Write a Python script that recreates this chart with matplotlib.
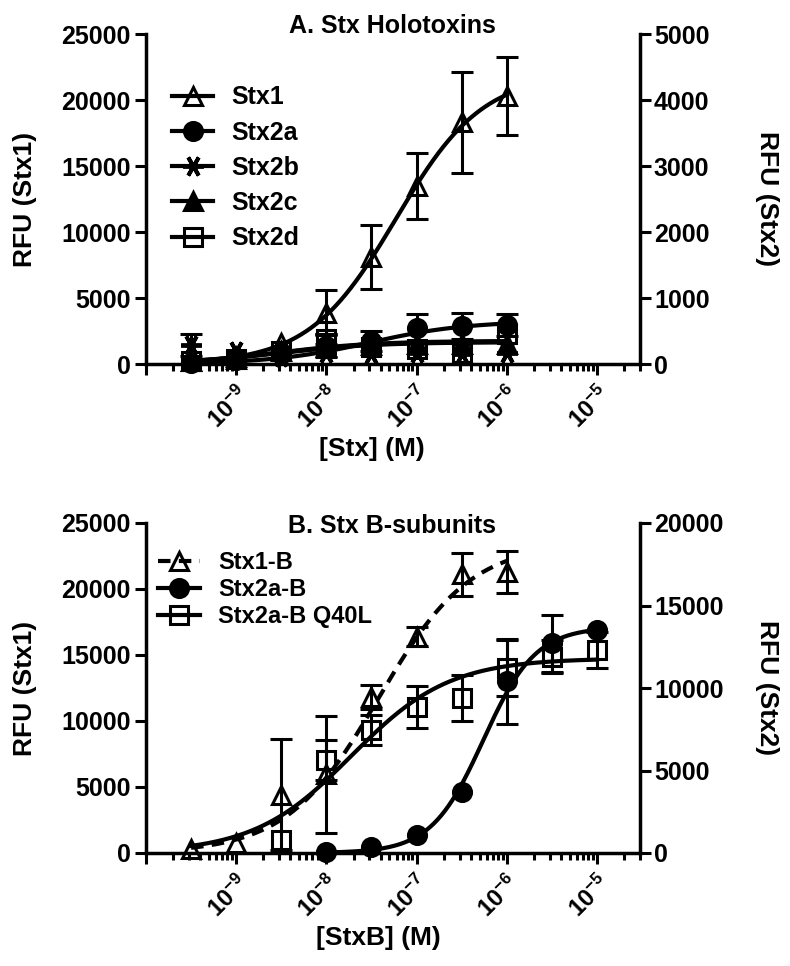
import matplotlib
matplotlib.use('Agg')
import matplotlib.pyplot as plt
import numpy as np
from matplotlib.lines import Line2D
from matplotlib.ticker import FixedLocator, FixedFormatter, NullFormatter

plt.rcParams['font.family'] = ['Liberation Sans', 'DejaVu Sans']
plt.rcParams['font.weight'] = 'bold'
plt.rcParams['axes.labelweight'] = 'bold'
plt.rcParams['mathtext.fontset'] = 'custom'
plt.rcParams['mathtext.bf'] = 'Liberation Sans:bold'
plt.rcParams['mathtext.rm'] = 'Liberation Sans:bold'
plt.rcParams['mathtext.default'] = 'bf'

# --- Panel A: holotoxins ---
conc_A = [3.16e-10, 1e-9, 3.16e-9, 1e-8, 3.16e-8, 1e-7, 3.16e-7, 1e-6]
stx1 = [200, 500, 1600, 3900, 8100, 13500, 18300, 20300]
stx1_err = [0, 0, 0, 1700, 2450, 2500, 3800, 2950]
# Stx2 toxins on right axis (RFU Stx2)
stx2a = [20, 60, 150, 280, 350, 550, 576, 590]
stx2a_err = [0, 0, 0, 170, 150, 210, 200, 170]
stx2b = [290, 200, 110, 170, 150, 170, 150, 160]
stx2b_err = [165, 0, 0, 0, 0, 0, 0, 0]
stx2c = [50, 80, 200, 260, 290, 300, 310, 300]
stx2d = [40, 80, 200, 380, 260, 220, 170, 450]
stx2d_err = [0, 0, 0, 75, 0, 0, 0, 0]

# fit parameters (top, EC50, hill)
fit_stx1 = (22000, 5.9e-8, 0.9)
fit_stx2a = (650, 3e-8, 0.8)
fit_stx2b = (330, 3e-9, 0.8)
fit_stx2c = (340, 3e-9, 0.8)
fit_stx2d = (350, 3e-9, 0.8)

# --- Panel B: B-subunits ---
conc_B1 = [3.16e-10, 1e-9, 3.16e-9, 1e-8, 3.16e-8, 1e-7, 3.16e-7, 1e-6]
stx1b = [300, 750, 4400, 5950, 11800, 16400, 21100, 21300]
stx1b_err = [0, 0, 4200, 4450, 900, 750, 1600, 1600]
conc_B2 = [1e-8, 3.16e-8, 1e-7, 3.16e-7, 1e-6, 3.16e-6, 1e-5]
stx2ab = [80, 380, 1100, 3700, 10400, 12700, 13500]
stx2ab_err = [0, 0, 0, 0, 2600, 1700, 0]
conc_B3 = [3.16e-9, 1e-8, 3.16e-8, 1e-7, 3.16e-7, 1e-6, 3.16e-6, 1e-5]
q40l = [790, 5640, 7450, 8850, 9390, 11200, 11900, 12300]
q40l_err = [0, 1200, 900, 1300, 1400, 1700, 1000, 1100]

fit_stx1b = (23500, 3.8e-8, 0.85)
fit_stx2ab = (13700, 5.5e-7, 1.5)
fit_q40l = (11800, 1.9e-8, 0.8)

major_ticks = [1e-10, 1e-9, 1e-8, 1e-7, 1e-6, 1e-5]
major_labels = ['', r'$10^{-9}$', r'$10^{-8}$', r'$10^{-7}$', r'$10^{-6}$', r'$10^{-5}$']

LW = 3
MS = 13
MEW = 2.2
STAR = (6, 2, 90)


def logistic(x, p):
    top, ec50, hill = p
    return top / (1 + (ec50 / x) ** hill)


def curve(ax, xmin, xmax, p, ls='-'):
    xs = np.logspace(np.log10(xmin), np.log10(xmax), 300)
    ax.plot(xs, logistic(xs, p), color='k', lw=LW, ls=ls, zorder=2)


def points(ax, x, y, err, marker, mfc):
    x, y = np.array(x), np.array(y)
    if err is not None:
        err = np.array(err)
        m = err > 0
        ax.errorbar(x[m], y[m], yerr=err[m], fmt='none', ecolor='k',
                    elinewidth=2.2, capsize=8, capthick=2.2, zorder=3)
    mew = 2.8 if marker == STAR else MEW
    ms = 15 if marker == STAR else MS
    ax.plot(x, y, ls='none', marker=marker, ms=ms, mfc=mfc, mec='k',
            mew=mew, clip_on=False, zorder=4)


def style(ax, ax2, rmax, rstep):
    ax.set_xscale('log')
    ax.set_xlim(1e-10, 3e-5)
    ax.set_ylim(0, 25000)
    ax.set_yticks(np.arange(0, 25001, 5000))
    ax2.set_ylim(0, rmax)
    ax2.set_yticks(np.arange(0, rmax + 1, rstep))
    for s in ['top', 'right']:
        ax.spines[s].set_visible(False)
    for s in ['top', 'left', 'bottom']:
        ax2.spines[s].set_visible(False)
    for sp in [ax.spines['left'], ax.spines['bottom'], ax2.spines['right']]:
        sp.set_linewidth(2.5)
    ax.xaxis.set_major_locator(FixedLocator(major_ticks))
    ax.xaxis.set_major_formatter(FixedFormatter(major_labels))
    minors = [m * 10.0 ** e for e in range(-10, -4) for m in range(2, 10)]
    ax.xaxis.set_minor_locator(FixedLocator([v for v in minors if v <= 3.01e-5]))
    ax.xaxis.set_minor_formatter(NullFormatter())
    ax.tick_params(axis='x', which='major', length=8, width=2.2, pad=5, labelsize=17)
    ax.tick_params(axis='x', which='minor', length=5, width=2.2)
    ax.tick_params(axis='y', length=8, width=2.2, labelsize=18, pad=3)
    ax2.tick_params(axis='y', length=8, width=2.2, labelsize=18, pad=2)
    for lab in ax.get_xticklabels():
        lab.set_rotation(45)
        lab.set_ha('right')
        lab.set_va('top')
        lab.set_rotation_mode('anchor')


fig = plt.figure(figsize=(7.9, 9.66), dpi=100)
W, H = 790, 966
axA = fig.add_axes([146 / W, 1 - 364 / H, 494 / W, 330 / H])
axA2 = axA.twinx()
axB = fig.add_axes([146 / W, 1 - 853 / H, 494 / W, 330 / H])
axB2 = axB.twinx()
style(axA, axA2, 5000, 1000)
style(axB, axB2, 20000, 5000)

# panel A
curve(axA, conc_A[0], conc_A[-1], fit_stx1)
curve(axA2, conc_A[0], conc_A[-1], fit_stx2a)
curve(axA2, conc_A[0], conc_A[-1], fit_stx2b)
curve(axA2, conc_A[0], conc_A[-1], fit_stx2c)
curve(axA2, conc_A[0], conc_A[-1], fit_stx2d)
points(axA, conc_A, stx1, stx1_err, '^', 'none')
points(axA2, conc_A, stx2a, stx2a_err, 'o', 'k')
points(axA2, conc_A, stx2b, stx2b_err, STAR, 'k')
points(axA2, conc_A, stx2c, None, '^', 'k')
points(axA2, conc_A, stx2d, stx2d_err, 's', 'none')

# panel B
curve(axB, conc_B1[0], conc_B1[-1], fit_stx1b, ls=(0, (3, 2)))
curve(axB2, conc_B2[0], conc_B2[-1], fit_stx2ab)
curve(axB2, conc_B1[0], conc_B3[-1], fit_q40l)
points(axB, conc_B1, stx1b, stx1b_err, '^', 'none')
points(axB2, conc_B2, stx2ab, stx2ab_err, 'o', 'k')
points(axB2, conc_B3, q40l, q40l_err, 's', 'none')


def handle(marker, mfc):
    mew = 2.8 if marker == STAR else MEW
    ms = 15 if marker == STAR else MS
    return Line2D([], [], color='k', lw=LW, marker=marker, ms=ms, mfc=mfc,
                  mec='k', mew=mew)


hA = [handle('^', 'none'), handle('o', 'k'), handle(STAR, 'k'),
      handle('^', 'k'), handle('s', 'none')]
axA2.legend(hA, ['Stx1', 'Stx2a', 'Stx2b', 'Stx2c', 'Stx2d'], loc='upper left',
            bbox_to_anchor=(0.053, 0.844), frameon=False, fontsize=18,
            handlelength=1.65, handletextpad=0.7, labelspacing=0.45,
            borderpad=0, borderaxespad=0)
hB = [Line2D([], [], color='k', lw=LW, ls=(0, (3, 2)), marker='^', ms=MS,
             mfc='none', mec='k', mew=MEW),
      handle('o', 'k'), handle('s', 'none')]
axB2.legend(hB, ['Stx1-B', 'Stx2a-B', 'Stx2a-B Q40L'], loc='upper left',
            bbox_to_anchor=(0.024, 0.914), frameon=False, fontsize=17,
            handlelength=1.78, handletextpad=0.76, labelspacing=0.17,
            borderpad=0, borderaxespad=0)

# titles and axis labels
fig.text(392 / W, 1 - 33 / H, 'A. Stx Holotoxins', ha='center', va='baseline', fontsize=18)
fig.text(392 / W, 1 - 533 / H, 'B. Stx B-subunits', ha='center', va='baseline', fontsize=18)
fig.text(372 / W, 1 - 456 / H, '[Stx] (M)', ha='center', va='baseline', fontsize=19)
fig.text(378 / W, 1 - 945 / H, '[StxB] (M)', ha='center', va='baseline', fontsize=19)
for ax, ax2 in [(axA, axA2), (axB, axB2)]:
    ax.set_ylabel('RFU (Stx1)', fontsize=19, fontweight='bold', va='center')
    ax.yaxis.set_label_coords((25 - 146) / 494, 0.5)
    ax2.set_ylabel('RFU (Stx2)', fontsize=19, fontweight='bold', rotation=270, va='center')
    ax2.yaxis.set_label_coords((767 - 146) / 494, 0.5)

fig.savefig('out.png', dpi=100)
